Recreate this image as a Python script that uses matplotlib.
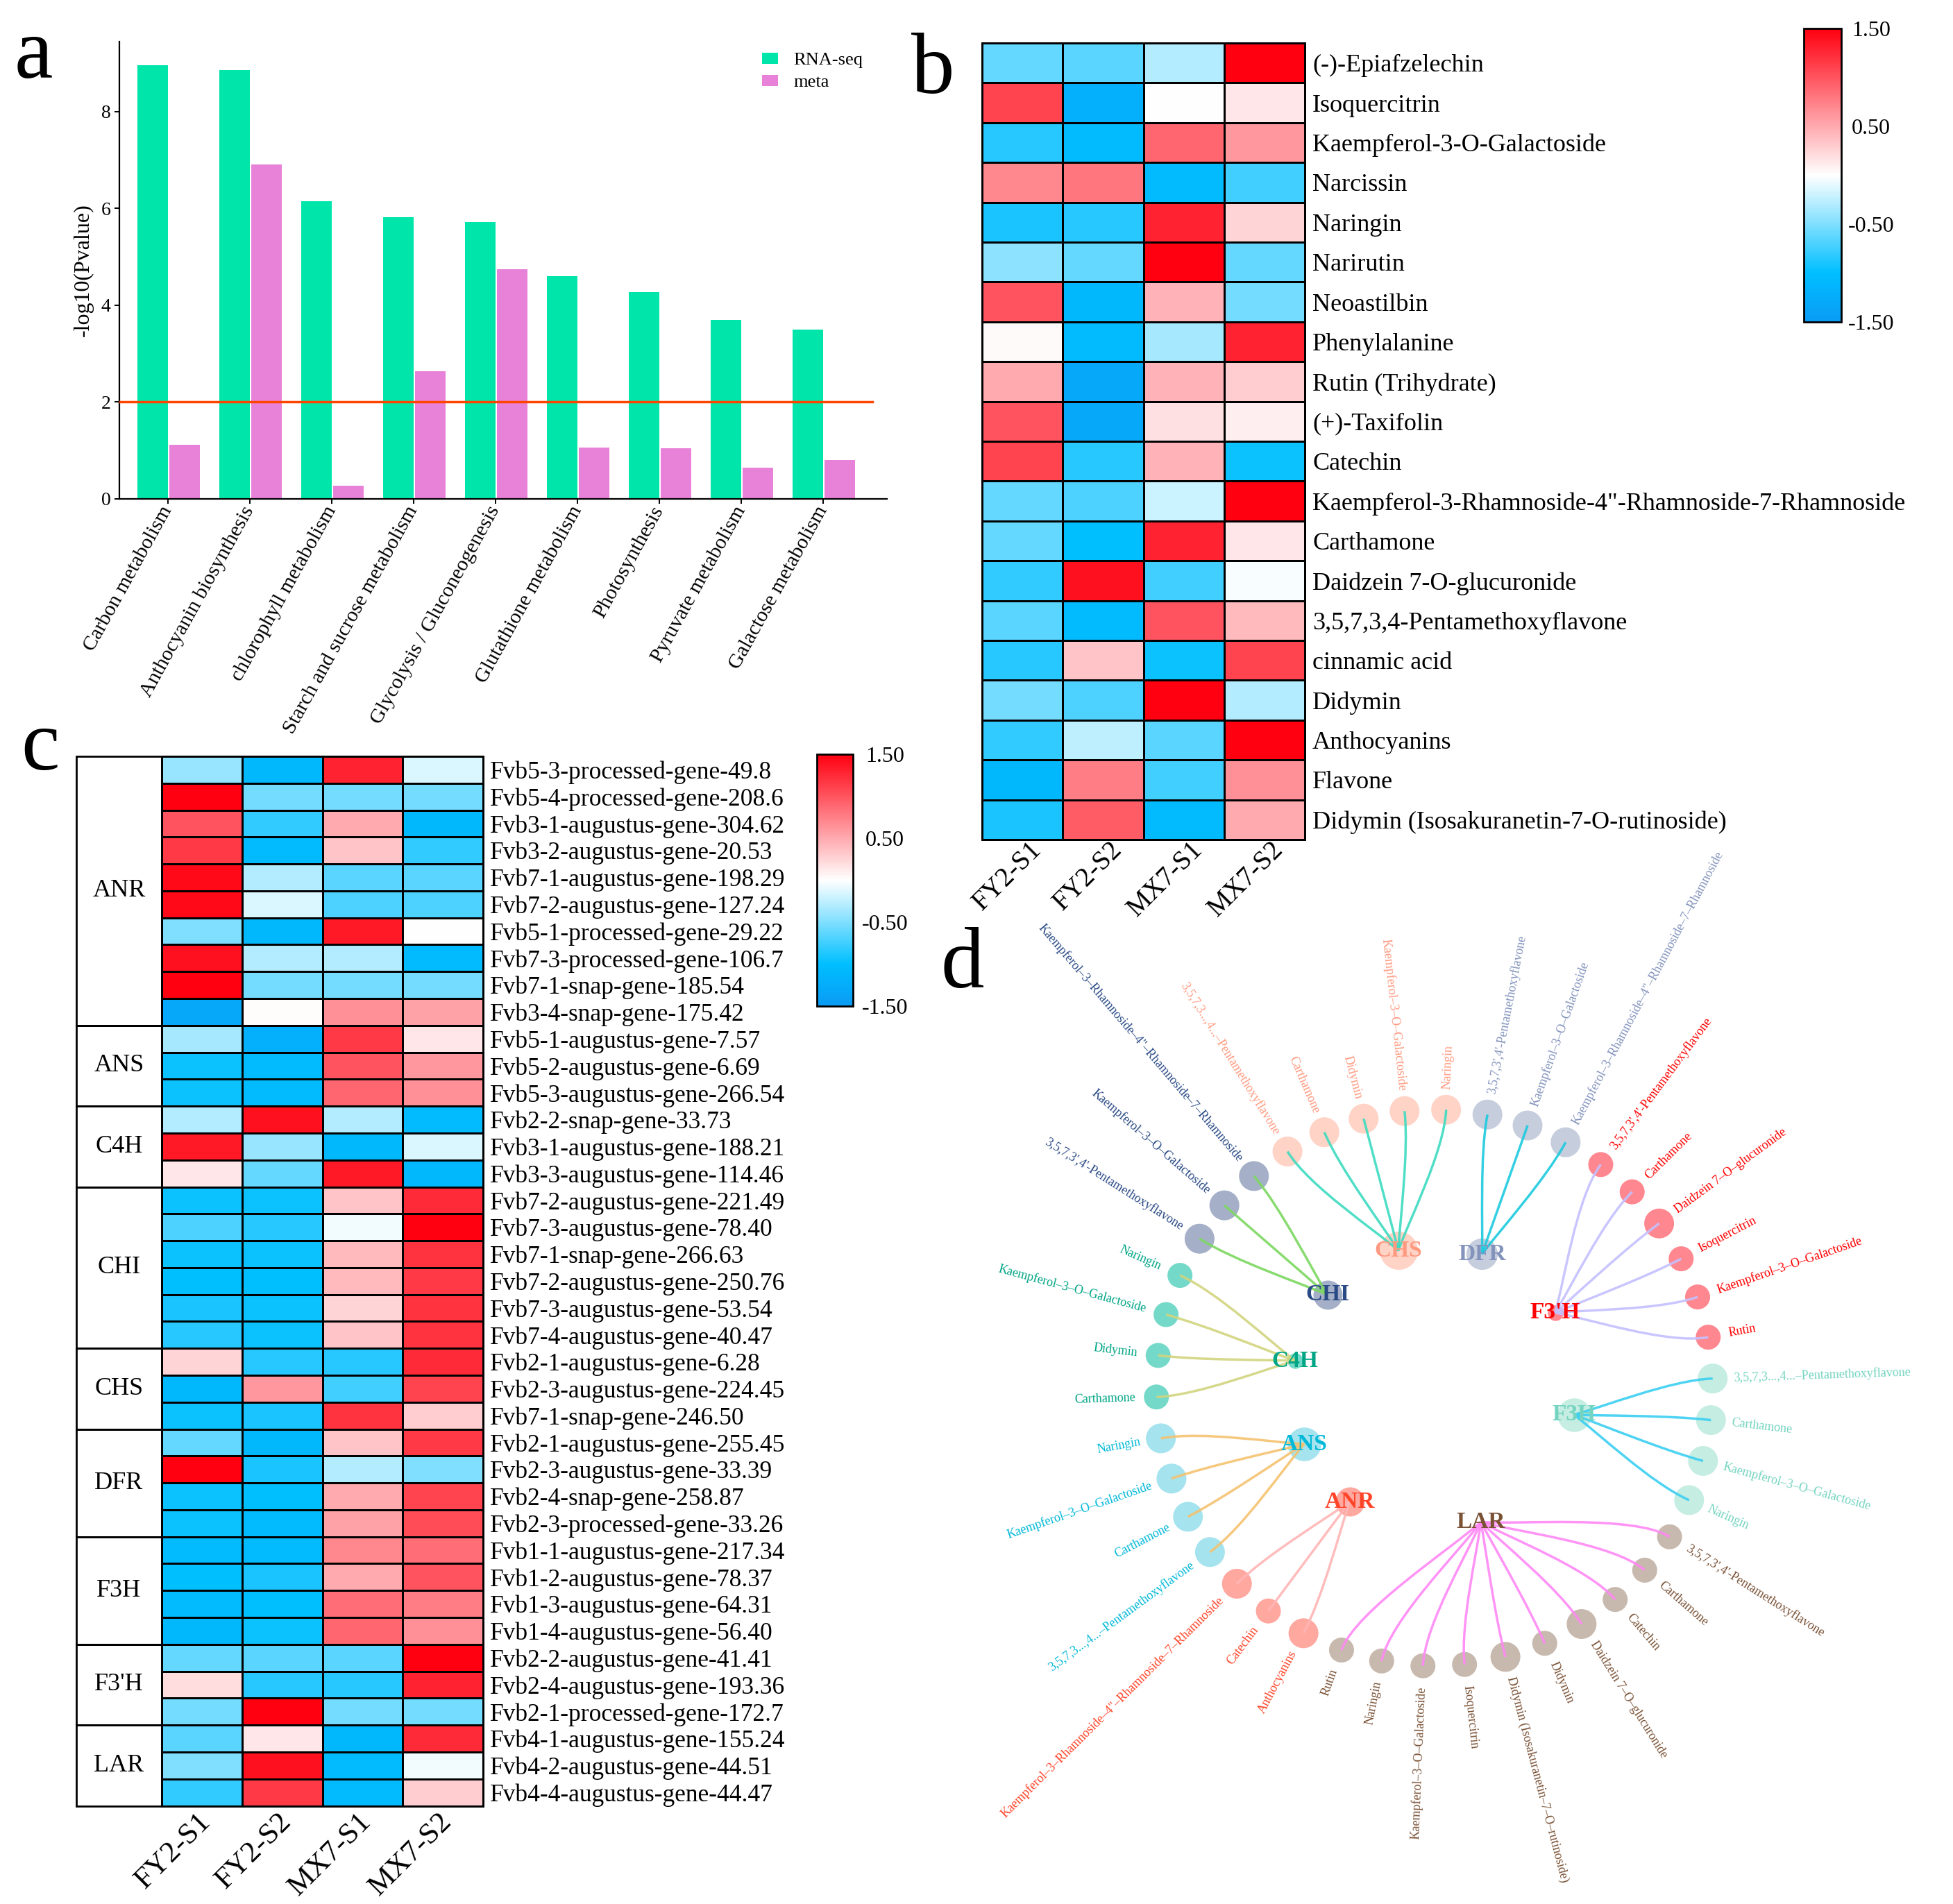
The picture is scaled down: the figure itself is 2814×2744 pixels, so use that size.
import numpy as np
import matplotlib
matplotlib.use("Agg")
import matplotlib.pyplot as plt
import matplotlib.transforms as mtransforms
from matplotlib.colors import LinearSegmentedColormap
from matplotlib.path import Path
from matplotlib.patches import PathPatch, Rectangle

plt.rcParams['font.family'] = ['Liberation Serif', 'DejaVu Serif']

# ---------------- data: panel a ----------------
pathways = ["Carbon metabolism", "Anthocyanin biosynthesis", "chlorophyll metabolism",
            "Starch and sucrose metabolism", "Glycolysis / Gluconeogenesis",
            "Glutathione metabolism", "Photosynthesis", "Pyruvate metabolism",
            "Galactose metabolism"]
rnaseq_vals = [8.95, 8.85, 6.15, 5.82, 5.71, 4.60, 4.27, 3.70, 3.49]
meta_vals = [1.12, 6.91, 0.27, 2.63, 4.74, 1.06, 1.04, 0.64, 0.80]
threshold = 2

# ---------------- data: panel b ----------------
samples = ["FY2-S1", "FY2-S2", "MX7-S1", "MX7-S2"]
metabolites = ["(-)-Epiafzelechin", "Isoquercitrin", "Kaempferol-3-O-Galactoside", "Narcissin",
               "Naringin", "Narirutin", "Neoastilbin", "Phenylalanine", "Rutin (Trihydrate)",
               "(+)-Taxifolin", "Catechin", 'Kaempferol-3-Rhamnoside-4"-Rhamnoside-7-Rhamnoside',
               "Carthamone", "Daidzein 7-O-glucuronide", "3,5,7,3,4-Pentamethoxyflavone",
               "cinnamic acid", "Didymin", "Anthocyanins", "Flavone",
               "Didymin (Isosakuranetin-7-O-rutinoside)"]
metab_z = [
    [-0.60, -0.65, -0.30, 1.50],
    [1.10, -1.20, 0.00, 0.15],
    [-0.85, -1.05, 0.90, 0.60],
    [0.70, 0.80, -1.05, -0.75],
    [-0.90, -0.85, 1.30, 0.25],
    [-0.45, -0.60, 1.50, -0.60],
    [1.00, -1.10, 0.45, -0.55],
    [0.03, -1.05, -0.35, 1.30],
    [0.50, -1.30, 0.45, 0.30],
    [1.00, -1.30, 0.18, 0.10],
    [1.10, -0.85, 0.45, -0.95],
    [-0.60, -0.70, -0.20, 1.50],
    [-0.60, -1.00, 1.30, 0.15],
    [-0.80, 1.40, -0.75, -0.03],
    [-0.65, -1.05, 1.00, 0.40],
    [-0.85, 0.35, -0.95, 1.10],
    [-0.55, -0.70, 1.50, -0.30],
    [-0.80, -0.25, -0.65, 1.50],
    [-1.10, 0.75, -0.75, 0.65],
    [-0.90, 0.95, -1.05, 0.50],
]

# ---------------- data: panel c ----------------
gene_groups = ["ANR", "ANS", "C4H", "CHI", "CHS", "DFR", "F3H", "F3'H", "LAR"]
group_counts = [10, 3, 3, 6, 3, 4, 4, 3, 3]
genes = ["Fvb5-3-processed-gene-49.8", "Fvb5-4-processed-gene-208.6", "Fvb3-1-augustus-gene-304.62",
         "Fvb3-2-augustus-gene-20.53", "Fvb7-1-augustus-gene-198.29", "Fvb7-2-augustus-gene-127.24",
         "Fvb5-1-processed-gene-29.22", "Fvb7-3-processed-gene-106.7", "Fvb7-1-snap-gene-185.54",
         "Fvb3-4-snap-gene-175.42", "Fvb5-1-augustus-gene-7.57", "Fvb5-2-augustus-gene-6.69",
         "Fvb5-3-augustus-gene-266.54", "Fvb2-2-snap-gene-33.73", "Fvb3-1-augustus-gene-188.21",
         "Fvb3-3-augustus-gene-114.46", "Fvb7-2-augustus-gene-221.49", "Fvb7-3-augustus-gene-78.40",
         "Fvb7-1-snap-gene-266.63", "Fvb7-2-augustus-gene-250.76", "Fvb7-3-augustus-gene-53.54",
         "Fvb7-4-augustus-gene-40.47", "Fvb2-1-augustus-gene-6.28", "Fvb2-3-augustus-gene-224.45",
         "Fvb7-1-snap-gene-246.50", "Fvb2-1-augustus-gene-255.45", "Fvb2-3-augustus-gene-33.39",
         "Fvb2-4-snap-gene-258.87", "Fvb2-3-processed-gene-33.26", "Fvb1-1-augustus-gene-217.34",
         "Fvb1-2-augustus-gene-78.37", "Fvb1-3-augustus-gene-64.31", "Fvb1-4-augustus-gene-56.40",
         "Fvb2-2-augustus-gene-41.41", "Fvb2-4-augustus-gene-193.36", "Fvb2-1-processed-gene-172.7",
         "Fvb4-1-augustus-gene-155.24", "Fvb4-2-augustus-gene-44.51", "Fvb4-4-augustus-gene-44.47"]
gene_z = [
    [-0.40, -1.10, 1.30, -0.15],
    [1.50, -0.55, -0.55, -0.55],
    [1.00, -0.80, 0.50, -1.10],
    [1.15, -1.05, 0.35, -0.80],
    [1.45, -0.30, -0.65, -0.65],
    [1.45, -0.15, -0.70, -0.70],
    [-0.50, -1.10, 1.35, 0.00],
    [1.40, -0.30, -0.30, -1.05],
    [1.50, -0.55, -0.55, -0.55],
    [-1.30, 0.02, 0.65, 0.55],
    [-0.35, -1.20, 1.15, 0.15],
    [-0.95, -1.05, 1.00, 0.60],
    [-0.95, -1.05, 0.90, 0.65],
    [-0.30, 1.40, -0.30, -1.05],
    [1.35, -0.40, -1.10, -0.15],
    [0.15, -0.60, 1.35, -1.10],
    [-0.95, -0.95, 0.35, 1.25],
    [-0.70, -0.85, -0.05, 1.50],
    [-0.95, -0.95, 0.40, 1.20],
    [-1.00, -1.00, 0.40, 1.15],
    [-0.90, -0.95, 0.25, 1.20],
    [-0.85, -0.95, 0.35, 1.20],
    [0.25, -0.85, -0.85, 1.25],
    [-1.10, 0.60, -0.75, 1.10],
    [-0.95, -0.90, 1.20, 0.30],
    [-0.60, -1.10, 0.35, 1.15],
    [1.50, -0.90, -0.30, -0.50],
    [-0.95, -1.00, 0.50, 1.10],
    [-0.95, -1.05, 0.55, 1.05],
    [-1.05, -1.05, 0.70, 0.85],
    [-1.00, -0.90, 0.50, 1.00],
    [-1.05, -1.00, 0.85, 0.75],
    [-1.10, -0.95, 0.90, 0.65],
    [-0.60, -0.65, -0.65, 1.50],
    [0.20, -0.85, -0.85, 1.30],
    [-0.55, 1.50, -0.55, -0.55],
    [-0.65, 0.15, -1.10, 1.25],
    [-0.50, 1.40, -1.05, -0.05],
    [-0.80, 1.15, -1.05, 0.30],
]

# ---------------- data: panel d ----------------
PM_a = "3,5,7,3',4'-Pentamethoxyflavone"
PM_b = "3,5,7,3...,4...\u2013Pentamethoxyflavone"
KG = "Kaempferol\u20133\u2013O\u2013Galactoside"
KR = 'Kaempferol\u20133\u2013Rhamnoside\u20134"\u2013Rhamnoside\u20137\u2013Rhamnoside'
DG = "Daidzein 7\u2013O\u2013glucuronide"
DI = "Didymin (Isosakuranetin\u20137\u2013O\u2013rutinoside)"
hub_names = ["ANR", "ANS", "C4H", "CHI", "CHS", "DFR", "F3'H", "F3H", "LAR"]
hub_leaves = [
    ["Anthocyanins", "Catechin", KR],
    [PM_b, "Carthamone", KG, "Naringin"],
    ["Carthamone", "Didymin", KG, "Naringin"],
    [PM_a, KG, KR],
    [PM_b, "Carthamone", "Didymin", KG, "Naringin"],
    [PM_a, KG, KR],
    [PM_a, "Carthamone", DG, "Isoquercitrin", KG, "Rutin"],
    [PM_b, "Carthamone", KG, "Naringin"],
    [PM_a, "Carthamone", "Catechin", DG, "Didymin", DI, "Isoquercitrin", KG, "Naringin", "Rutin"],
]
leaf_weight = [
    [2, 1, 2],
    [2, 2, 2, 2],
    [1, 1, 1, 1],
    [2, 2, 2],
    [2, 2, 2, 2, 2],
    [2, 2, 2],
    [1, 1, 2, 1, 1, 1],
    [2, 2, 2, 2],
    [1, 1, 1, 2, 1, 2, 1, 1, 1, 1],
]
hub_weight = [4, 5, 1, 4, 6, 4.5, 1, 5, 0]

# ---------------- styles ----------------
hub_text_col = ["#FF4428", "#00B8D8", "#00A585", "#2A4A85", "#FF9A80", "#8393BC", "#FF0000", "#74D4C0", "#7A5236"]
hub_node_col = ["#FFA8A0", "#A5E3EE", "#74D9C9", "#A5B0C8", "#FFD3C6", "#C6CDDD", "#FF8890", "#C5EDE2", "#C8B9AE"]
hub_edge_col = ["#FFB5B5", "#F5C270", "#D2D47E", "#7CD860", "#3DDBC0", "#1CCADF", "#C4C0FF", "#3CCFF2", "#FF88F5"]

W, H = 2814, 2744
fig = plt.figure(figsize=(W / 100, H / 100), dpi=100)


def rect(l, t, r, b):
    return [l / W, 1 - b / H, (r - l) / W, (b - t) / H]


def shift_labels(labels, dx_px):
    off = mtransforms.ScaledTranslation(dx_px / 100.0, 0, fig.dpi_scale_trans)
    for lbl in labels:
        lbl.set_transform(lbl.get_transform() + off)


cmap = LinearSegmentedColormap.from_list(
    "bwr2", [(0.0, "#0A9BF5"), (1 / 6, "#00BFFF"), (0.5, "#FFFFFF"), (1.0, "#FF0010")])

# ================= panel a =================
ax_a = fig.add_axes(rect(172, 60, 1278, 719))
x = np.arange(len(pathways))
bw = 0.373
ax_a.bar(x - bw / 2, rnaseq_vals, width=bw, color="#00E5AA", label="RNA-seq")
ax_a.bar(x + 0.02 + bw / 2, meta_vals, width=bw, color="#E882D8", label="meta")
ax_a.axhline(threshold, xmin=0, xmax=0.981, color="#FF4500", lw=2.5, zorder=3)
ax_a.set_xlim(-0.593, 8.78)
ax_a.set_ylim(0, 9.44)
for s in ["top", "right"]:
    ax_a.spines[s].set_visible(False)
for s in ["left", "bottom"]:
    ax_a.spines[s].set_linewidth(1.6)
ax_a.set_yticks([0, 2, 4, 6, 8])
ax_a.tick_params(axis="y", labelsize=20, length=5, width=1.4, pad=4)
ax_a.tick_params(axis="x", length=5, width=1.4, pad=4)
ax_a.set_xticks(x)
ax_a.set_xticklabels(pathways, rotation=61, ha="right", va="center",
                     rotation_mode="anchor", fontsize=21.5)
ax_a.set_ylabel("-log10(Pvalue)", fontsize=23, labelpad=8)
ax_a.legend(loc="upper left", bbox_to_anchor=(1098 / W, 1 - 76 / H), bbox_transform=fig.transFigure,
            frameon=False, fontsize=19, handlelength=0.87, handleheight=0.57,
            handletextpad=0.85, labelspacing=0.35, borderpad=0, borderaxespad=0)

# ================= panel b =================
ax_b = fig.add_axes(rect(1415, 62, 1880, 1210))
mesh_b = ax_b.pcolormesh(np.array(metab_z), cmap=cmap, vmin=-1.5, vmax=1.5,
                         edgecolors="black", linewidth=2)
mesh_b.set_clip_on(False)
ax_b.set_xlim(0, len(samples))
ax_b.set_ylim(len(metabolites), 0)
ax_b.yaxis.tick_right()
ax_b.set_yticks(np.arange(len(metabolites)) + 0.5)
ax_b.set_yticklabels(metabolites, fontsize=26)
ax_b.set_xticks(np.arange(len(samples)) + 0.5)
ax_b.set_xticklabels(samples, rotation=45, ha="right", va="center", rotation_mode="anchor", fontsize=28)
ax_b.tick_params(length=0, pad=8)
ax_b.tick_params(axis="x", pad=6.5)
shift_labels(ax_b.get_xticklabels(), 22)
for s in ax_b.spines.values():
    s.set_linewidth(2)

cax_b = fig.add_axes(rect(2599, 41, 2653, 464))
cb_b = fig.colorbar(mesh_b, cax=cax_b, ticks=[-1.5, -0.5, 0.5, 1.5])
cb_b.ax.set_yticklabels(["-1.50", "-0.50", "0.50", "1.50"])
cb_b.ax.tick_params(length=0, labelsize=23, pad=31)
cb_b.outline.set_linewidth(2)
for t in cb_b.ax.get_yticklabels():
    t.set_ha("center")

# ================= panel c =================
ax_c = fig.add_axes(rect(110, 1090, 696, 2602.5))
gw = 1.063
n_genes = len(genes)
mesh_c = ax_c.pcolormesh(np.arange(len(samples) + 1), np.arange(n_genes + 1), np.array(gene_z),
                         cmap=cmap, vmin=-1.5, vmax=1.5, edgecolors="black", linewidth=2)
mesh_c.set_clip_on(False)
start = 0
for g, n in zip(gene_groups, group_counts):
    ax_c.add_patch(Rectangle((-gw, start), gw, n, fill=False, edgecolor="black", lw=2, clip_on=False))
    ax_c.text(-gw / 2, start + n / 2, g, ha="center", va="center", fontsize=26)
    start += n
ax_c.set_xlim(-gw, len(samples))
ax_c.set_ylim(n_genes, 0)
for s in ax_c.spines.values():
    s.set_visible(False)
ax_c.yaxis.tick_right()
ax_c.set_yticks(np.arange(n_genes) + 0.5)
ax_c.set_yticklabels(genes, fontsize=25.5)
ax_c.set_xticks(np.arange(len(samples)) + 0.5)
ax_c.set_xticklabels(samples, rotation=45, ha="right", va="center", rotation_mode="anchor", fontsize=31)
ax_c.tick_params(length=0, pad=7)
ax_c.tick_params(axis="x", pad=12)
shift_labels(ax_c.get_xticklabels(), 7)

cax_c = fig.add_axes(rect(1177, 1087, 1229, 1450))
cb_c = fig.colorbar(mesh_c, cax=cax_c, ticks=[-1.5, -0.5, 0.5, 1.5])
cb_c.ax.set_yticklabels(["-1.50", "-0.50", "0.50", "1.50"])
cb_c.ax.tick_params(length=0, labelsize=23, pad=33)
cb_c.outline.set_linewidth(2)
for t in cb_c.ax.get_yticklabels():
    t.set_ha("center")

# ================= panel d =================
ax_d = fig.add_axes([1330 / W, 0, 1484 / W, 1504 / H])
ax_d.set_xlim(-1.838, 1.863)
ax_d.set_ylim(-1.855, 1.895)
ax_d.axis("off")

n_leaf = sum(len(l) for l in hub_leaves)
step = 360.0 / n_leaf
a0 = 241.9
hub_r = 0.51


def diam_to_s(dpx):
    return (dpx / 1.389) ** 2


idx = 0
for h, (hname, leaves) in enumerate(zip(hub_names, hub_leaves)):
    angs = np.array([a0 - (idx + k) * step for k in range(len(leaves))])
    idx += len(leaves)
    rad = np.deg2rad(angs)
    lx, ly = np.cos(rad), np.sin(rad)
    m = np.deg2rad(angs.mean())
    hx, hy = hub_r * np.cos(m), hub_r * np.sin(m)
    # leaf nodes
    sizes = [diam_to_s(29 + 7 * w) for w in leaf_weight[h]]
    ax_d.scatter(lx, ly, s=sizes, color=hub_node_col[h], linewidths=0, zorder=2)
    # hub node
    if hub_weight[h] > 0:
        ax_d.scatter([hx], [hy], s=diam_to_s(16 + 6.5 * hub_weight[h]), color=hub_node_col[h],
                     linewidths=0, zorder=2)
    # edges
    for k in range(len(leaves)):
        P0 = np.array([hx, hy])
        P3 = np.array([lx[k], ly[k]])
        u = P3 / np.hypot(*P3)
        P1 = P0 + 0.2 * (P3 - P0)
        P2 = P3 - 0.15 * u
        path = Path([P0, P1, P2, P3], [Path.MOVETO, Path.CURVE4, Path.CURVE4, Path.CURVE4])
        ax_d.add_patch(PathPatch(path, facecolor="none", edgecolor=hub_edge_col[h], lw=2.5,
                                 alpha=0.9, zorder=3))
    # leaf labels
    for k, name in enumerate(leaves):
        a = angs[k]
        aa = ((a + 180) % 360) - 180
        tx, ty = 1.075 * lx[k], 1.075 * ly[k]
        if -90 <= aa <= 90:
            rot, ha = aa, "left"
        else:
            rot, ha = aa - 180 if aa > 0 else aa + 180, "right"
        ax_d.text(tx, ty, name, rotation=rot, ha=ha, va="center", rotation_mode="anchor",
                  fontsize=13, color=hub_text_col[h], zorder=4)
    # hub label
    ax_d.text(hx, hy, hname, ha="center", va="center", fontsize=24, fontweight="bold",
              color=hub_text_col[h], zorder=5)

# ================= panel letters =================
for letter, (lx_, ly_) in zip("abcd", [(21, 112), (1313, 134), (30, 1109), (1355, 1423)]):
    fig.text(lx_ / W, 1 - ly_ / H, letter, fontsize=90, ha="left", va="baseline")

fig.savefig("out.png", dpi=100)
